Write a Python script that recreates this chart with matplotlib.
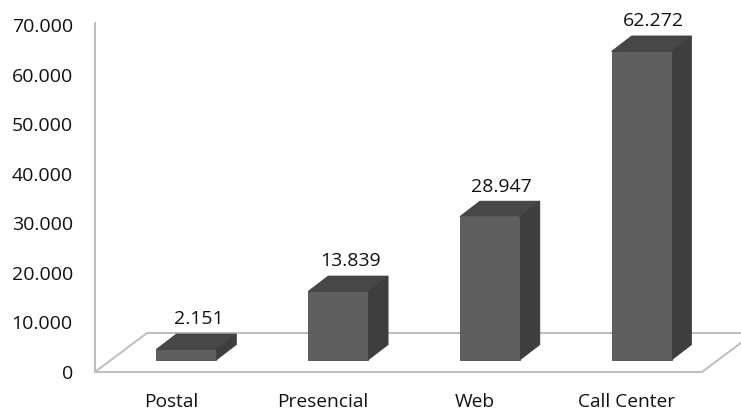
import matplotlib.pyplot as plt
from matplotlib.patches import Polygon

# Channel totals
categories = ['Postal', 'Presencial', 'Web', 'Call Center']
values = [2151, 13839, 28947, 62272]
value_labels = ['2.151', '13.839', '28.947', '62.272']
y_ticks = [0, 10000, 20000, 30000, 40000, 50000, 60000, 70000]
y_tick_labels = ['0', '10.000', '20.000', '30.000', '40.000', '50.000', '60.000', '70.000']

plt.rcParams['font.family'] = ['Open Sans', 'DejaVu Sans']

W, H = 741, 411
fig = plt.figure(figsize=(W / 100, H / 100), dpi=100)
# plot area: x from -0.5..3.5 across the front floor edge, y 0..70000
ax = fig.add_axes([95 / W, (H - 372) / H, (702 - 95) / W, (372 - 25) / H])
ax.set_xlim(-0.5, len(categories) - 0.5)
ax.set_ylim(0, 70000)

# pseudo-3D depth (in data units)
floor_dx, floor_dy = 0.343, 7870      # floor depth
base_dx, base_dy = 0.102, 2420        # where bars stand on the floor
bar_dx, bar_dy = 0.132, 3100          # bar depth
bar_w = 0.395

front_c, side_c, top_c = '#5f5f5f', '#3e3e3e', '#474747'
edge_c = '#3a3a3a'
line_c = '#bdbdbd'

# floor outline
x0, x1 = -0.5, len(categories) - 0.5
floor = [(x0, 0), (x1, 0), (x1 + floor_dx, floor_dy), (x0 + floor_dx, floor_dy)]
ax.add_patch(Polygon(floor, closed=True, fill=False, edgecolor=line_c, lw=1.4,
                     clip_on=False, zorder=1))
# value axis line
ax.plot([x0, x0], [0, 70400], color=line_c, lw=1.4, clip_on=False, zorder=1)

for i, (v, lab) in enumerate(zip(values, value_labels)):
    l = i - bar_w / 2 + base_dx
    r = l + bar_w
    b = base_dy
    t = base_dy + v
    front = [(l, b), (r, b), (r, t), (l, t)]
    side = [(r, b), (r + bar_dx, b + bar_dy), (r + bar_dx, t + bar_dy), (r, t)]
    top = [(l, t), (r, t), (r + bar_dx, t + bar_dy), (l + bar_dx, t + bar_dy)]
    for pts, c in ((side, side_c), (top, top_c), (front, front_c)):
        ax.add_patch(Polygon(pts, closed=True, facecolor=c, edgecolor=edge_c,
                             lw=0.5, clip_on=False, zorder=3))
    ax.annotate(lab, (i + base_dx + bar_dx * 0.6, t + bar_dy), xytext=(0, 10.5),
                textcoords='offset points', ha='center', va='center',
                fontsize=14, color='#111111', zorder=4)

ax.set_xticks(range(len(categories)))
ax.set_xticklabels(categories, fontsize=13.8, color='#111111')
ax.set_yticks(y_ticks)
ax.set_yticklabels(y_tick_labels, fontsize=14, color='#111111')
ax.tick_params(axis='x', length=0, pad=15)
ax.tick_params(axis='y', length=0, pad=16)
for s in ax.spines.values():
    s.set_visible(False)
ax.patch.set_visible(False)

fig.savefig('out.png', dpi=100)
